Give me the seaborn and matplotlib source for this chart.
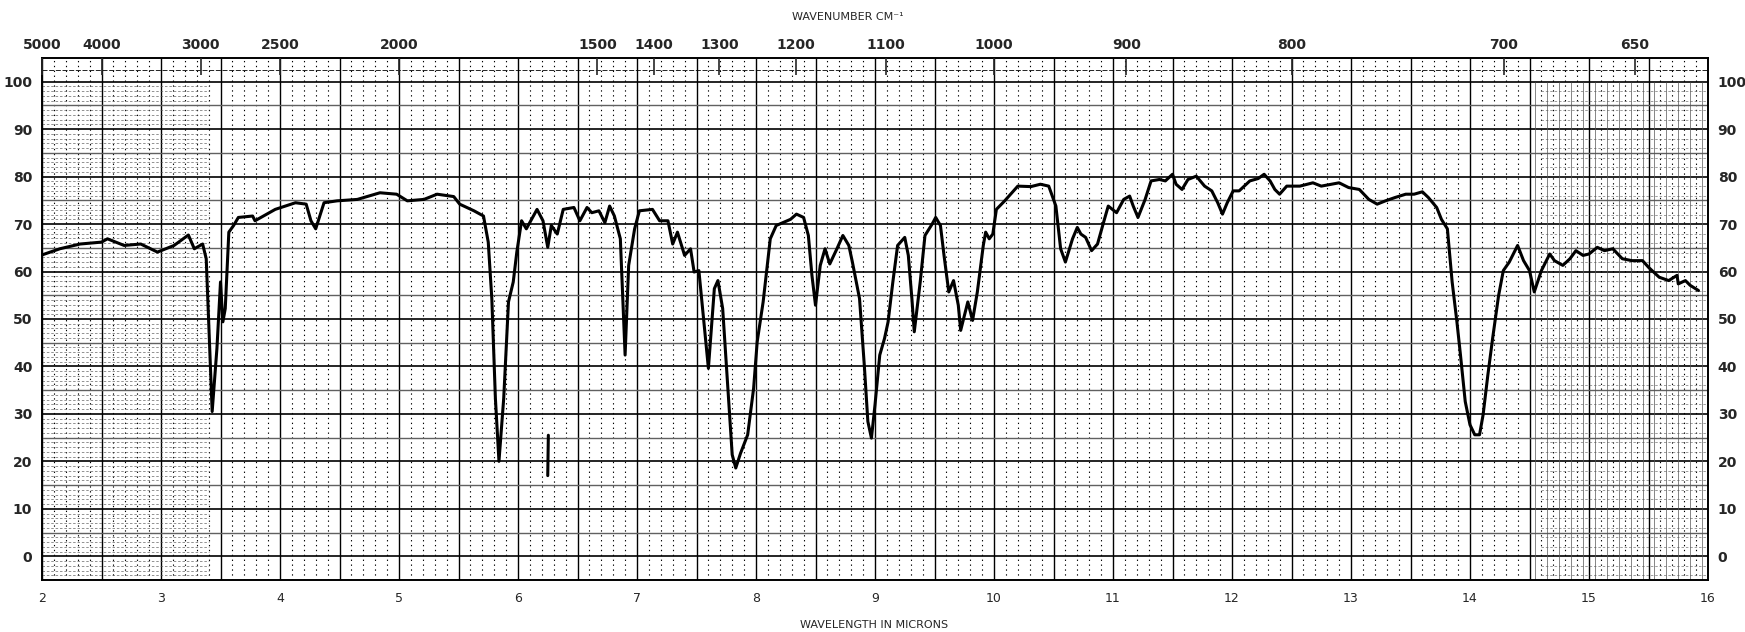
import numpy as np
import pandas as pd
import matplotlib
matplotlib.use("Agg")
import matplotlib.pyplot as plt
import seaborn as sns

# ==========================
# DATA
# ==========================

wavelength = [
    2.00, 2.15, 2.32, 2.50, 2.55, 2.69, 2.83, 2.97, 3.00, 3.11, 3.23, 3.28,
    3.35, 3.38, 3.43, 3.47, 3.50, 3.52, 3.54, 3.57, 3.61, 3.65, 3.77, 3.79,
    3.96, 4.13, 4.22, 4.26, 4.30, 4.37, 4.48, 4.65, 4.84, 4.98, 5.07, 5.21,
    5.32, 5.46, 5.51, 5.63, 5.71, 5.75, 5.78, 5.81, 5.84, 5.88, 5.92, 5.96,
    5.99, 6.03, 6.07, 6.16, 6.21, 6.25, 6.28, 6.33, 6.38, 6.47, 6.52, 6.58,
    6.62, 6.68, 6.73, 6.77, 6.81, 6.86, 6.90, 6.93, 6.98, 7.02, 7.13, 7.19,
    7.26, 7.30, 7.34, 7.40, 7.45, 7.48, 7.52, 7.60, 7.65, 7.68, 7.72, 7.76,
    7.80, 7.83, 7.87, 7.93, 7.98, 8.01, 8.06, 8.12, 8.17, 8.29, 8.34, 8.40,
    8.44, 8.47, 8.50, 8.54, 8.58, 8.62, 8.68, 8.73, 8.78, 8.81, 8.87, 8.91,
    8.94, 8.97, 9.00, 9.04, 9.08, 9.11, 9.15, 9.19, 9.25, 9.28, 9.31, 9.33,
    9.38, 9.42, 9.48, 9.51, 9.55, 9.58, 9.62, 9.66, 9.70, 9.72, 9.78, 9.82,
    9.86, 9.91, 9.93, 9.96, 9.99, 10.02, 10.09, 10.20, 10.31, 10.39, 10.46,
    10.52, 10.56, 10.60, 10.66, 10.70, 10.73, 10.77, 10.82, 10.87, 10.92,
    10.96, 11.03, 11.09, 11.14, 11.17, 11.21, 11.27, 11.32, 11.39, 11.44,
    11.50, 11.53, 11.58, 11.63, 11.70, 11.77, 11.83, 11.88, 11.92, 11.96,
    12.01, 12.06, 12.15, 12.22, 12.27, 12.32, 12.36, 12.40, 12.46, 12.57,
    12.68, 12.75, 12.90, 12.98, 13.07, 13.15, 13.22, 13.29, 13.37, 13.46,
    13.53, 13.60, 13.65, 13.72, 13.76, 13.81, 13.85, 13.89, 13.92, 13.96,
    14.00, 14.04, 14.08, 14.11, 14.15, 14.19, 14.24, 14.28, 14.33, 14.40,
    14.45, 14.50, 14.54, 14.60, 14.67, 14.71, 14.78, 14.84, 14.89, 14.95,
    15.00, 15.07, 15.13, 15.20, 15.28, 15.36, 15.45, 15.50, 15.59, 15.67,
    15.74, 15.75, 15.81, 15.85, 15.92,
]

transmittance = [
    63.5, 64.8, 65.8, 66.2, 66.9, 65.5, 65.8, 64.1, 64.4, 65.5, 67.7, 64.8,
    65.8, 62.7, 30.5, 43.8, 57.8, 49.4, 52.2, 68.3, 69.7, 71.4, 71.7, 70.7,
    73.1, 74.5, 74.2, 70.7, 69.0, 74.5, 74.9, 75.2, 76.6, 76.3, 74.9, 75.2,
    76.3, 75.8, 74.2, 72.8, 71.7, 66.2, 54.3, 33.3, 20.0, 33.3, 53.6, 57.8,
    64.1, 70.7, 69.0, 73.1, 70.7, 65.1, 69.7, 67.9, 73.1, 73.5, 70.7, 73.5,
    72.4, 72.8, 70.3, 73.8, 71.7, 66.9, 42.4, 61.3, 69.0, 72.8, 73.1, 70.7,
    70.7, 65.8, 68.3, 63.4, 64.8, 59.9, 60.2, 39.6, 56.4, 58.1, 52.2, 36.8,
    21.4, 18.6, 21.7, 25.6, 35.4, 45.2, 53.6, 66.9, 69.7, 71.0, 72.1, 71.4,
    67.6, 59.2, 52.9, 61.3, 64.8, 61.6, 64.8, 67.6, 65.5, 62.0, 54.3, 40.3,
    28.4, 24.9, 31.9, 42.4, 45.9, 49.4, 57.8, 65.5, 67.2, 63.4, 54.3, 47.3,
    57.8, 67.6, 70.0, 71.4, 69.7, 63.4, 55.7, 58.1, 52.9, 47.6, 53.6, 49.7,
    55.7, 65.5, 68.3, 66.9, 67.9, 73.1, 74.9, 78.0, 77.9, 78.4, 78.0,
    73.8, 64.8, 62.0, 66.9, 69.3, 67.9, 67.2, 64.4, 65.8, 70.3,
    73.8, 72.4, 75.2, 75.9, 73.8, 71.4, 75.2, 79.1, 79.4, 79.1,
    80.5, 78.4, 77.3, 79.4, 80.1, 78.0, 77.0, 74.5, 72.1, 74.5,
    77.0, 77.0, 79.1, 79.6, 80.5, 79.1, 77.3, 76.3, 78.0, 78.0,
    78.7, 78.0, 78.7, 77.7, 77.3, 75.2, 74.2, 74.9, 75.6, 76.3,
    76.3, 76.8, 75.6, 73.5, 71.0, 69.0, 57.8, 49.4, 42.4, 32.6,
    27.7, 25.6, 25.6, 29.8, 38.2, 45.9, 54.9, 60.2, 62.0, 65.5,
    62.3, 60.2, 55.7, 60.2, 63.7, 62.3, 61.3, 62.7, 64.4, 63.4,
    63.7, 65.1, 64.4, 64.8, 62.7, 62.3, 62.3, 60.9, 58.8, 58.1,
    59.2, 57.4, 58.1, 57.1, 56.0,
]

# separate pen mark near 6.25 microns
mark_wavelength = [6.255, 6.250]
mark_transmittance = [25.5, 17.0]

wl_ticks = list(range(2, 17))
wn_ticks = [5000, 4000, 3000, 2500, 2000, 1500, 1400, 1300, 1200, 1100,
            1000, 900, 800, 700, 650]
wn_minor = (list(range(4900, 2000, 100)) + list(range(1950, 1000, 50))
            + list(range(990, 625, 10)))
pct_ticks = list(range(0, 101, 10))

df = pd.DataFrame({"wavelength": wavelength, "transmittance": transmittance})

# ==========================
# FIGURE
# ==========================

sns.set_style("white")
plt.rcParams["font.family"] = ["DejaVu Sans"]

fig = plt.figure(figsize=(17.45, 6.32), dpi=100)
ax = fig.add_axes([42 / 1745, 52 / 632, 1666 / 1745, 522 / 632])

# spectrum
sns.lineplot(data=df, x="wavelength", y="transmittance", ax=ax,
             color="black", lw=2.2, sort=False, zorder=5)
ax.plot(mark_wavelength, mark_transmittance, color="black", lw=2.2, zorder=5)

ax.set_xlim(2, 16)
ax.set_ylim(-5, 105)

# chart paper grid
ax.vlines(np.arange(2, 16.01, 0.5), -5, 105, colors="black", lw=1.0, zorder=1)
minor_v = [v for v in np.arange(2, 16, 0.1) if abs(v * 2 - round(v * 2)) > 1e-6]
ax.vlines(minor_v, -5, 105, colors="black", lw=0.8, linestyles=(0, (1.2, 3.2)),
          zorder=1)
for h in range(-5, 101, 5):
    if h % 10 == 0:
        ax.axhline(h, color="black", lw=1.2, zorder=1)
    else:
        ax.axhline(h, color="#606060", lw=1.0, zorder=1)
# fine rulings at both ends of the paper
for h in np.arange(-4, 100, 1.0):
    if h % 5 != 0:
        ax.hlines(h, 2, 3.4, color="#555555", lw=0.45, ls=(0, (4, 3)), zorder=1)
    if h % 2 == 0 and h % 5 != 0:
        ax.hlines(h, 14.6, 16, color="#666666", lw=0.45, ls=(0, (4, 3)), zorder=1)
ax.vlines(np.arange(14.55, 16, 0.1), -5, 100, colors="#555555", lw=0.5, zorder=1)
ax.axhline(102.5, color="black", lw=0.6, ls=(0, (6, 2)), zorder=1)

# wavenumber ticks in the top band (position = 10000 / wavenumber)
tick_x = [1e4 / w for w in wn_minor]
tick_low = [101.8 if w % 100 == 0 else 103.0 for w in wn_minor]
ax.vlines(tick_x, tick_low, 105, colors="black", lw=1.2, zorder=6)

for s in ax.spines.values():
    s.set_color("black")
    s.set_linewidth(1.4)

ax.set_xticks(wl_ticks)
ax.set_yticks(pct_ticks)
ax.tick_params(axis="x", length=0, pad=9, labelsize=9)
ax.tick_params(axis="y", length=0, labelsize=10, labelleft=True,
               labelright=True, pad=7)
for lab in ax.get_yticklabels():
    lab.set_fontweight("semibold")
ax.set_xlabel("")
ax.set_ylabel("")

# wavenumber labels on top (twin axis)
top = ax.twiny()
top.set_xlim(2, 16)
top.set_xticks([1e4 / w for w in wn_ticks])
top.set_xticklabels([str(w) for w in wn_ticks])
top.tick_params(axis="x", which="major", direction="in", length=12,
                width=1.2, labelsize=10, pad=4, top=True)
top.tick_params(axis="y", left=False, right=False, labelleft=False,
                labelright=False)
for s in top.spines.values():
    s.set_visible(False)
for lab in top.get_xticklabels():
    lab.set_fontweight("semibold")

fig.text(848 / 1745, 1 - 17 / 632, "WAVENUMBER CM\u207b\u00b9", ha="center",
         va="center", fontsize=8)
fig.text(874 / 1745, 1 - 625 / 632, "WAVELENGTH IN MICRONS", ha="center",
         va="center", fontsize=8)

fig.savefig("out.png", dpi=100, facecolor="white")
